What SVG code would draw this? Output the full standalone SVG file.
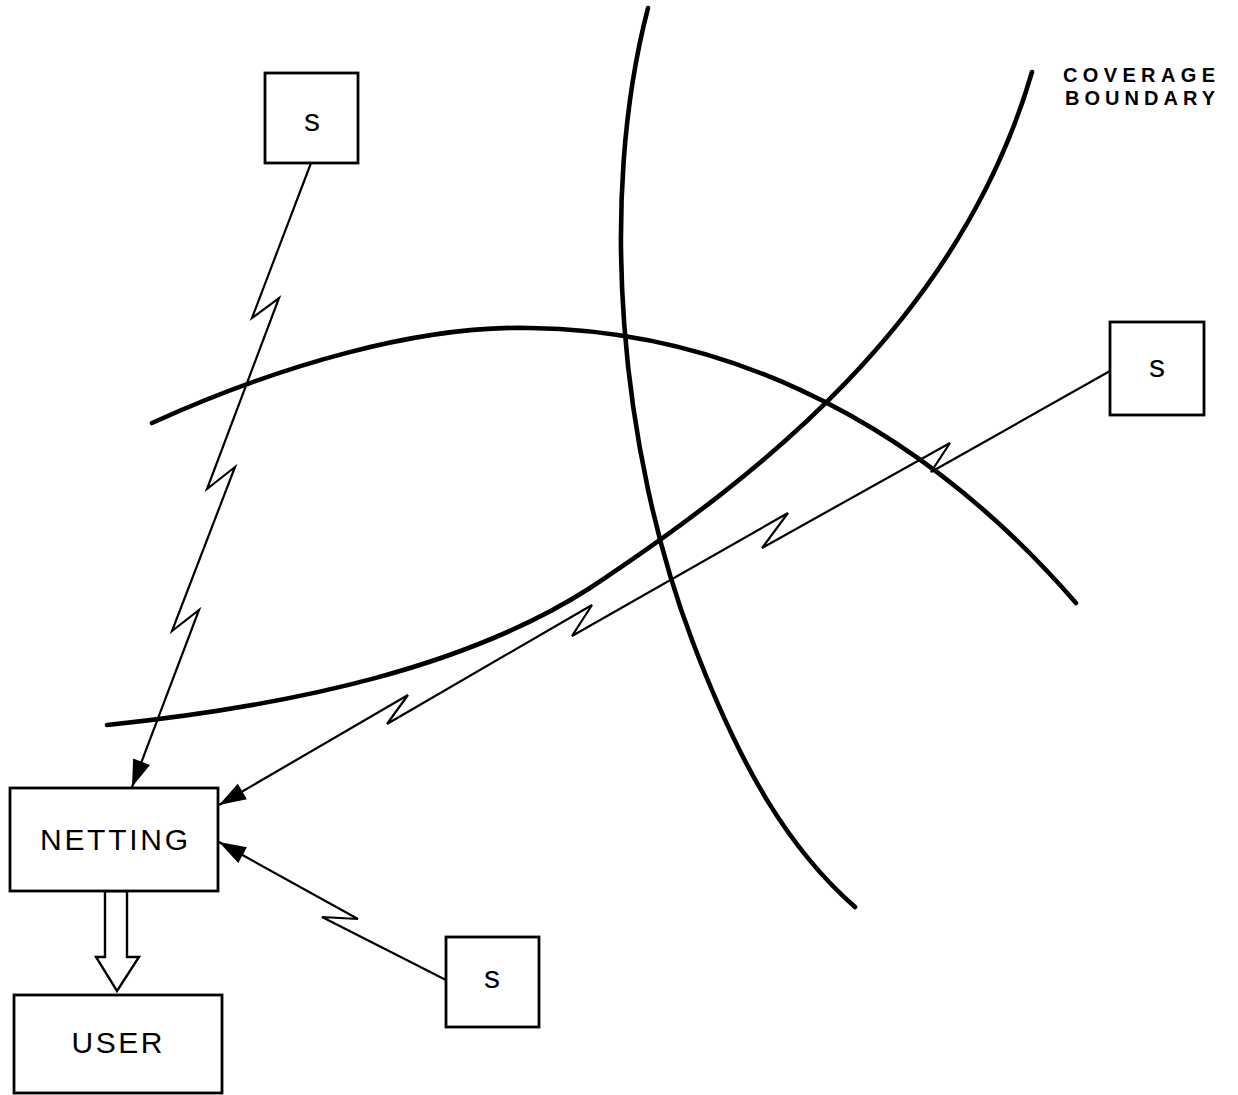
<svg xmlns="http://www.w3.org/2000/svg" width="1238" height="1095" viewBox="0 0 1238 1095">
  <style>
    .box { fill: #fff; stroke: #000; stroke-width: 2.8; }
    .lbl { font-family: "Liberation Sans", Arial, sans-serif; fill: #000; text-anchor: middle; }
    .big { font-size: 30px; }
    .sm { font-size: 32px; }
    .cov { font-family: "Liberation Sans", Arial, sans-serif; font-size: 20px; font-weight: bold; fill: #000; }
    .curve { fill: none; stroke: #000; stroke-width: 4.6; stroke-linecap: round; }
    .link { fill: none; stroke: #000; stroke-width: 2.2; stroke-linejoin: miter; }
  </style>
  <defs>
    <marker id="head" viewBox="-28 -10 29 20" refX="0" refY="0" markerWidth="29" markerHeight="20" markerUnits="userSpaceOnUse" orient="auto">
      <path d="M0,0 L-27,-9 L-27,9 Z" fill="#000"/>
    </marker>
  </defs>
  <rect width="1238" height="1095" fill="#fff"/>

  <!-- coverage boundaries -->
  <g id="boundaries">
    <path class="curve" d="M152,423 C280,365 420,325 530,328 C700,330 900,400 1076,603"/>
    <path class="curve" d="M107,725 C300,705 470,665 590,588 C760,475 960,320 1032,72"/>
    <path class="curve" d="M648,8 C598,200 620,450 692,640 C741,770 790,850 855,907"/>
  </g>

  <!-- radio links (lightning-bolt lines) and data flow -->
  <g id="connectors">
    <polyline class="link" stroke-width="2.5" points="311,163 252,318 279,298 207,489 235,467 172,631 199,610 132,787" marker-end="url(#head)"/>
    <polyline class="link" stroke-width="2" points="1110,371 931,472 950,443 762,548 788,513 572,636 592,605 387,724 408,695 219,805" marker-end="url(#head)"/>
    <polyline class="link" stroke-width="2.1" points="446,980 322,917 358,919 219,842" marker-end="url(#head)"/>
    <polygon fill="#fff" stroke="#000" stroke-width="2.4" stroke-linejoin="miter" points="105,891 105,957 96,957 117,991 139,957 127,957 127,891"/>
  </g>

  <g id="sensor-top">
    <rect class="box" x="265" y="73" width="93" height="90"/>
    <text class="lbl sm" x="312" y="131">s</text>
  </g>
  <g id="sensor-right">
    <rect class="box" x="1110" y="322" width="94" height="93"/>
    <text class="lbl sm" x="1157" y="377">s</text>
  </g>
  <g id="sensor-bottom">
    <rect class="box" x="446" y="937" width="93" height="90"/>
    <text class="lbl sm" x="492" y="988">s</text>
  </g>
  <g id="netting">
    <rect class="box" x="10" y="788" width="208" height="103"/>
    <text class="lbl big" x="114" y="850" textLength="148" lengthAdjust="spacing">NETTING</text>
  </g>
  <g id="user">
    <rect class="box" x="14" y="995" width="208" height="98"/>
    <text class="lbl big" x="117" y="1053" textLength="91" lengthAdjust="spacing">USER</text>
  </g>

  <g id="coverage-label">
    <text class="cov" x="1063" y="82" textLength="152" lengthAdjust="spacing">COVERAGE</text>
    <text class="cov" x="1065" y="105" textLength="150" lengthAdjust="spacing">BOUNDARY</text>
  </g>
</svg>
